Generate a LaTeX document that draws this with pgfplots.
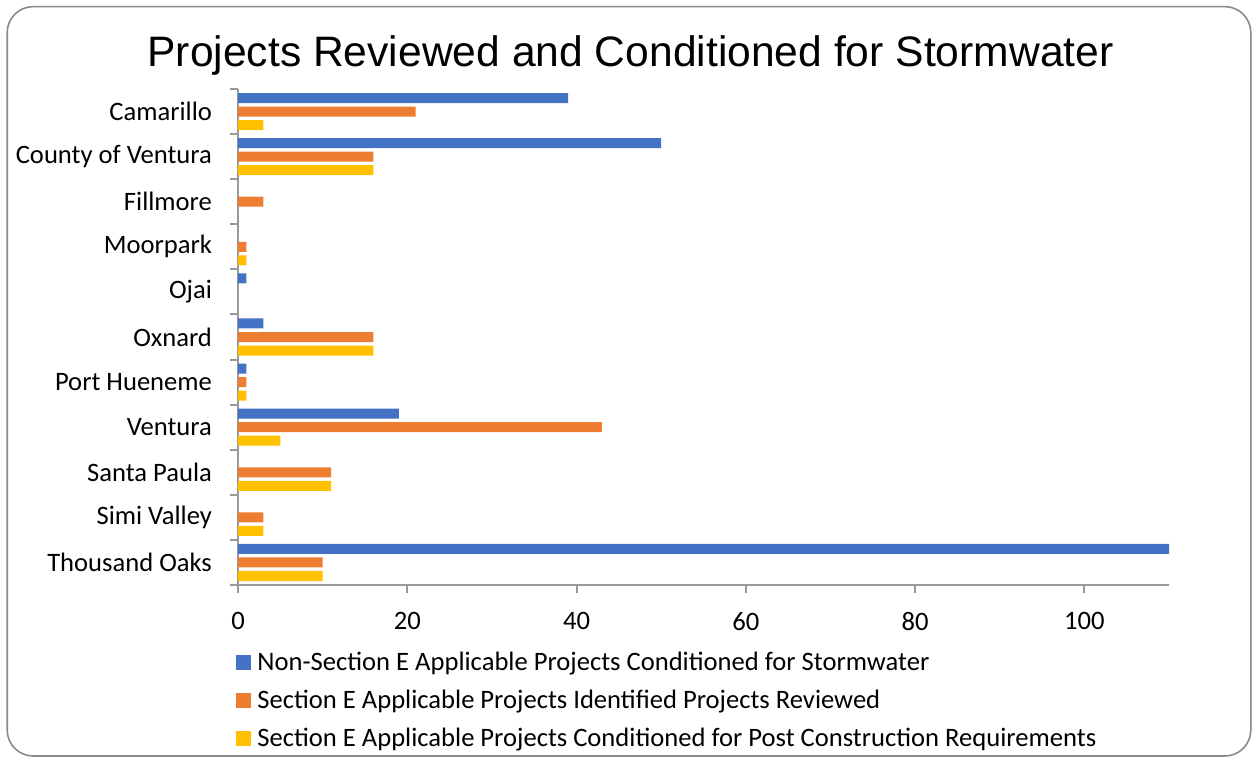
\documentclass[border=0pt]{standalone}
\usepackage{pgfplots}
\pgfplotsset{compat=1.18}
\usepackage{fontspec}
\setmainfont{Carlito}
\newfontfamily\titlefont{Liberation Sans}

\definecolor{sblue}{HTML}{4472C4}
\definecolor{sorange}{HTML}{ED7D31}
\definecolor{syellow}{HTML}{FFC000}
\definecolor{axgray}{HTML}{999999}

\begin{document}
\begin{tikzpicture}
% canvas and frame (1 px = 0.5 pt)
\path[use as bounding box] (0pt,0pt) rectangle (626pt,-378.5pt);
\draw[axgray!90!black,line width=0.8pt,rounded corners=13pt] (3.6pt,-3.3pt) rectangle (625.4pt,-378.0pt);
\node[font=\titlefont\fontsize{21.3}{25}\selectfont,anchor=base] at (315.3pt,-33.3pt)
 {Projects Reviewed and Conditioned for Stormwater};

\begin{axis}[
 at={(119pt,-292.5pt)},anchor=south west,
 scale only axis,width=465.5pt,height=248pt,
 xbar,bar width=0.222,
 xmin=0,xmax=110,ymin=-0.5,ymax=10.5,
 axis x line*=bottom,axis y line*=left,
 axis line style={axgray,line width=1pt},
 every tick/.style={axgray,line width=1pt},
 tick align=outside,major tick length=4pt,
 xtick={0,20,...,100},
 ytick={-0.5,0.5,...,10.5},yticklabels={},
 extra y ticks={0,1,...,10},
 extra y tick labels={Thousand Oaks,Simi Valley,Santa Paula,Ventura,Port Hueneme,Oxnard,Ojai,Moorpark,Fillmore,County of Ventura,Camarillo},
 extra y tick style={major tick length=0pt},
 ticklabel style={font=\fontsize{13.3}{16}\selectfont,text=black},
 yticklabel style={xshift=-9.5pt},
 xticklabel style={yshift=-6pt},
 /pgf/number format/assume math mode=true,
 legend style={at={(rel axis cs:0,0)},anchor=north west,xshift=-4pt,yshift=-33.5pt,
  draw=none,fill=none,font=\fontsize{13.3}{16}\selectfont,
  row sep=9.5pt,nodes={inner sep=0pt,text height=7pt,text depth=2.5pt}},
 legend cell align=left,
 legend image code/.code={\fill[#1,overlay] (0pt,-1.95pt) rectangle (7.5pt,5.55pt);
  \path (0pt,-3.75pt) (10.5pt,3.75pt);},
]
\addplot[fill=sblue,draw=none,bar shift=0.3]
 coordinates {(39,10) (50,9) (1,6) (3,5) (1,4) (19,3) (110,0)};
\addplot[fill=sorange,draw=none,bar shift=0]
 coordinates {(21,10) (16,9) (3,8) (1,7) (16,5) (1,4) (43,3) (11,2) (3,1) (10,0)};
\addplot[fill=syellow,draw=none,bar shift=-0.3]
 coordinates {(3,10) (16,9) (1,7) (16,5) (1,4) (5,3) (11,2) (3,1) (10,0)};
\legend{Non-Section E Applicable Projects Conditioned for Stormwater,
 Section E Applicable Projects Identified Projects Reviewed,
 Section E Applicable Projects Conditioned for Post Construction Requirements}
\end{axis}
\end{tikzpicture}
\end{document}
